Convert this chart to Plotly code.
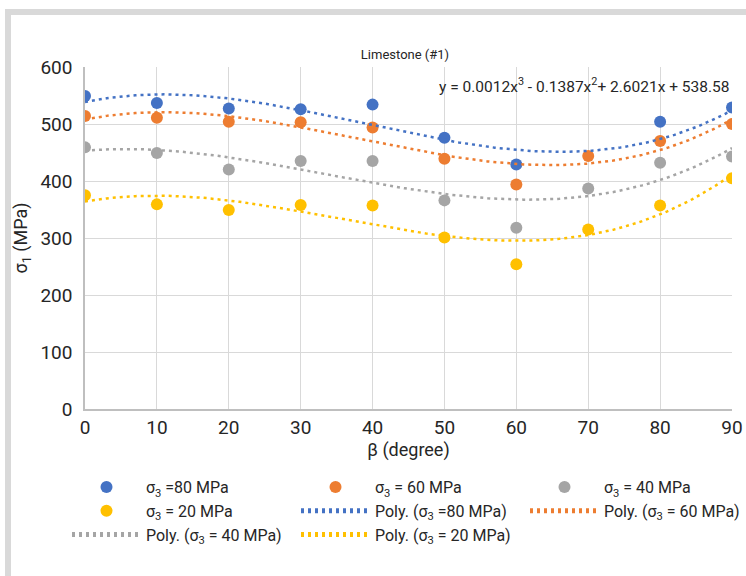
import numpy as np
import plotly.graph_objects as go

beta = [0, 10, 20, 30, 40, 50, 60, 70, 80, 90]
s80 = [549, 537, 527, 526, 534, 476, 429, None, 504, 529]
s60 = [514, 511, 504, 503, 494, 439, 394, 444, 470, 500]
s40 = [459, 449, 420, 435, 435, 366, 318, 387, 432, 443]
s20 = [375, 359, 349, 358, 357, 301, 254, 315, 357, 405]

# displayed trend equation for sigma3 = 80 MPa
poly80 = [0.0012, -0.1387, 2.6021, 538.58]

names = ["σ<sub>3</sub> =80 MPa", "σ<sub>3</sub> = 60 MPa", "σ<sub>3</sub> = 40 MPa", "σ<sub>3</sub> = 20 MPa"]
colors = ["#4472C4", "#ED7D31", "#A5A5A5", "#FFC000"]
series = [s80, s60, s40, s20]

FONT = "Roboto, Liberation Sans, sans-serif"
TXT = "#262626"

fig = go.Figure()
for name, col, s in zip(names, colors, series):
    fig.add_trace(go.Scatter(x=beta, y=s, mode="markers", name=name,
                             marker=dict(color=col, size=12)))

xs = np.linspace(0, 90, 181)
for i, (name, col, s) in enumerate(zip(names, colors, series)):
    if i == 0:
        coef = poly80
    else:
        xv = [b for b, v in zip(beta, s) if v is not None]
        yv = [v for v in s if v is not None]
        coef = np.polyfit(xv, yv, 3)
    fig.add_trace(go.Scatter(x=xs, y=np.polyval(coef, xs), mode="lines",
                             name="Poly. (" + name + ")",
                             line=dict(color=col, width=2.5, dash="3px,4px")))

fig.update_layout(
    width=746, height=576,
    margin=dict(l=85, r=14, t=67, b=167, autoexpand=False),
    paper_bgcolor="white", plot_bgcolor="white",
    font=dict(family=FONT, size=16, color=TXT),
    title=dict(text="Limestone (#1)", x=405 / 746, xanchor="center",
               y=1 - 54 / 576, yanchor="middle", font=dict(size=13)),
    showlegend=True,
    legend=dict(orientation="h", x=(67 - 85) / 647, xanchor="left",
                y=(409 - 470) / 342, yanchor="top",
                entrywidth=145, entrywidthmode="pixels",
                itemwidth=69, font=dict(size=16), bgcolor="rgba(0,0,0,0)",
                tracegroupgap=0, itemsizing="constant"),
    xaxis=dict(range=[0, 90], tickvals=beta, showgrid=True, gridcolor="#d9d9d9",
               gridwidth=1, zeroline=False, showline=True, linecolor="#bfbfbf",
               linewidth=1.5, ticks="", tickfont=dict(size=19),
               title=dict(text="β (degree)", font=dict(size=18), standoff=6)),
    yaxis=dict(range=[0, 600], dtick=100, showgrid=True, gridcolor="#d9d9d9",
               gridwidth=1, zeroline=False, showline=True, linecolor="#bfbfbf",
               linewidth=1.5, ticks="", tickfont=dict(size=19), ticklabelstandoff=7,
               title=dict(text="σ<sub>1</sub> (MPa)", font=dict(size=18), standoff=8)),
)

fig.add_annotation(xref="paper", yref="paper", x=1, xanchor="right",
                   y=(409 - 85) / 342, yanchor="middle", showarrow=False,
                   text="y = 0.0012x<sup>3</sup> - 0.1387x<sup>2</sup>+ 2.6021x + 538.58",
                   font=dict(size=15.5, color=TXT))

# outer frame of the original chart box
fig.add_shape(type="rect", xref="paper", yref="paper",
              x0=(8 - 85) / 647, x1=(900 - 85) / 647,
              y0=(409 - 800) / 342, y1=(409 - 12) / 342,
              line=dict(color="#d9d9d9", width=6), fillcolor="rgba(0,0,0,0)", layer="below")

fig.write_html("out.html", config={"displayModeBar": False},
               post_script="document.body.style.margin='0';")
